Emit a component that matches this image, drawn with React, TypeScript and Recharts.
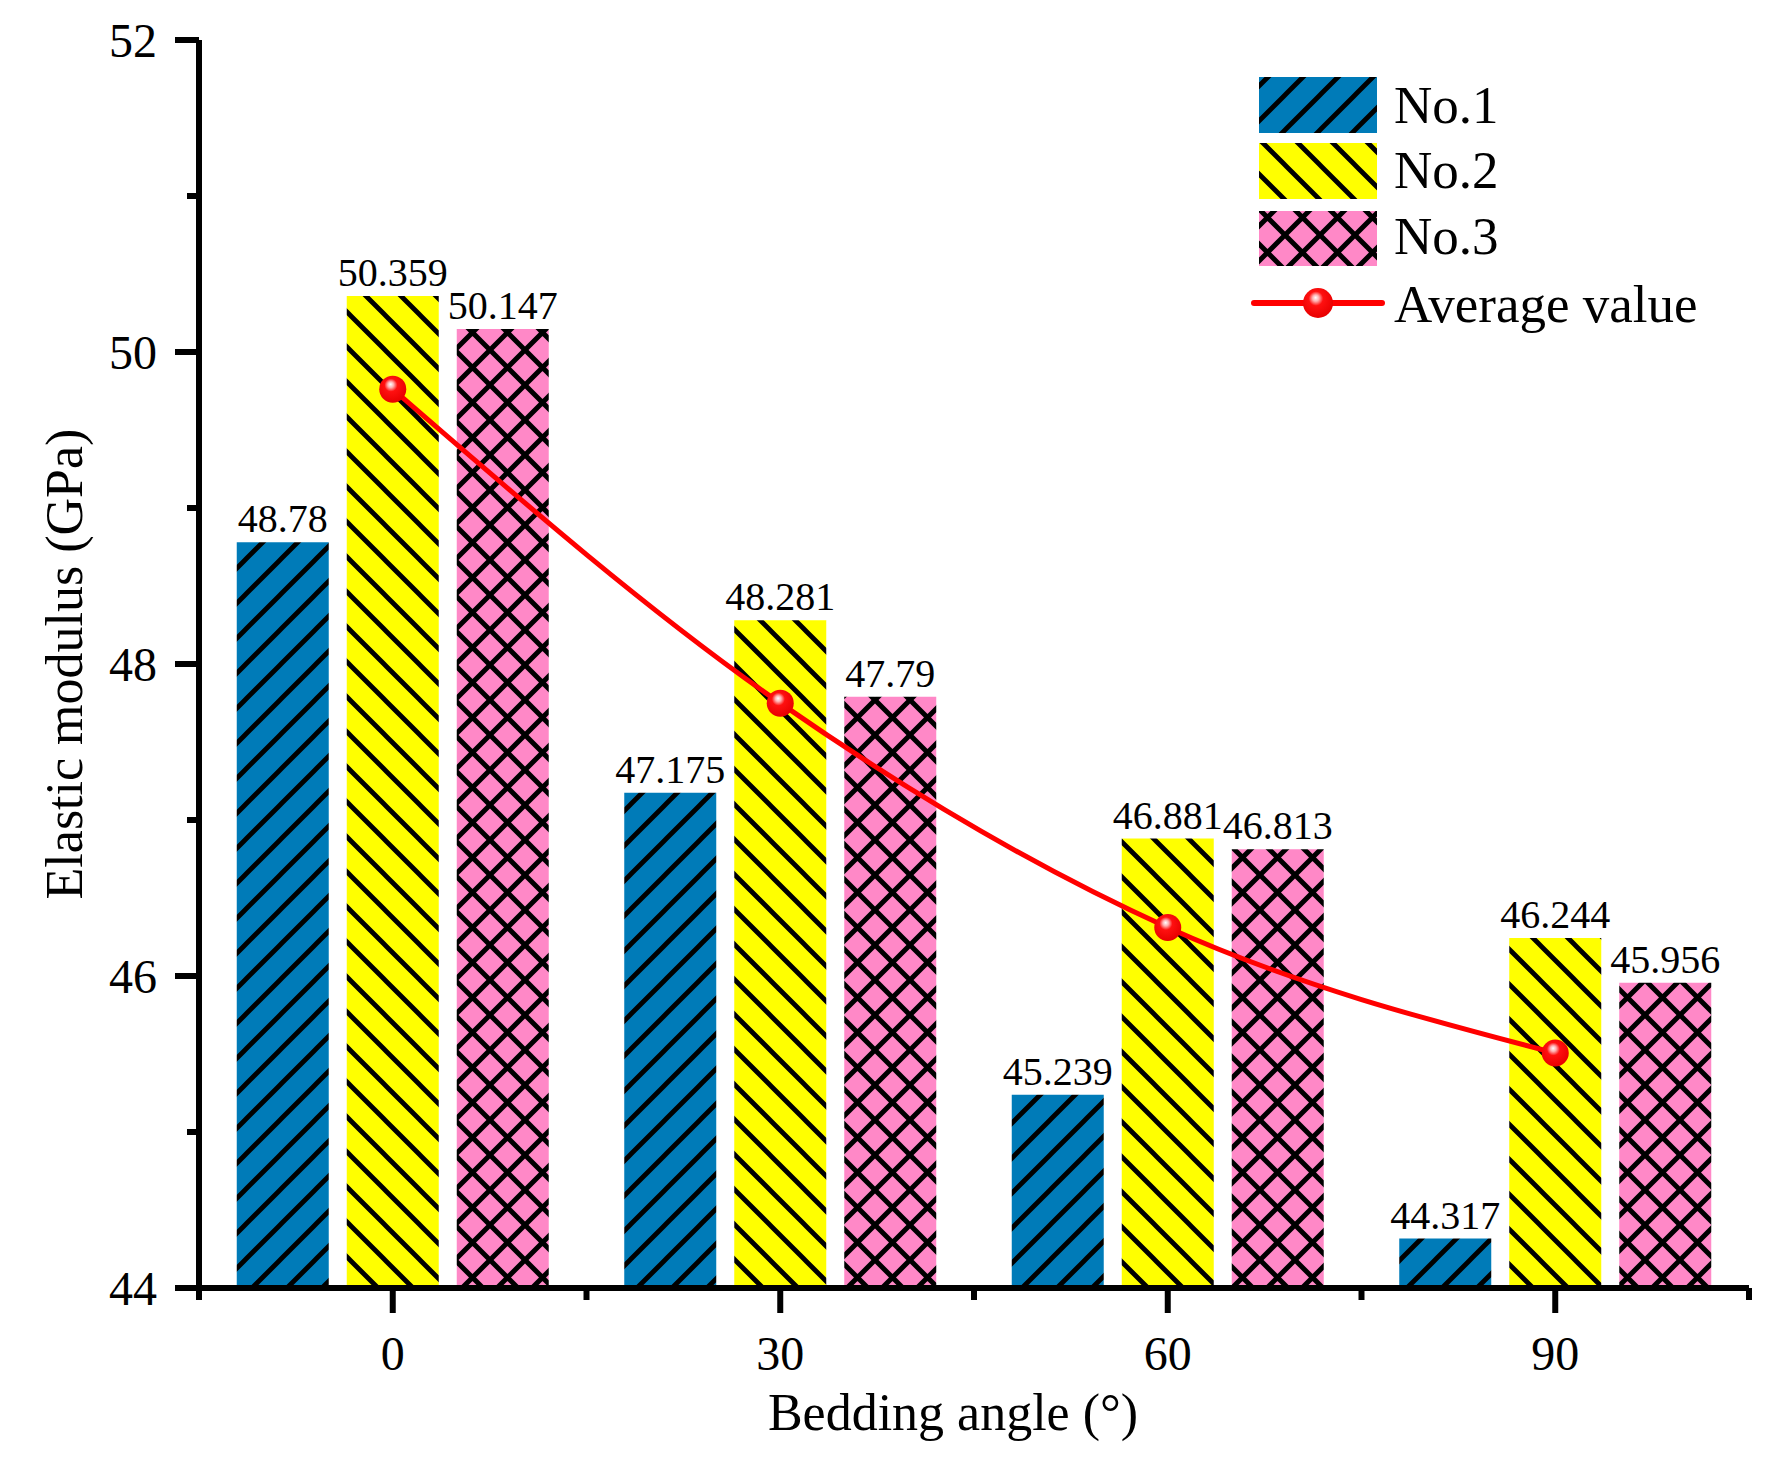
import React from 'react';
import { ComposedChart, Bar, Line, XAxis, YAxis, Legend, LabelList } from 'recharts';

const ANGLES = ['0', '30', '60', '90'];
const NO1 = [48.78, 47.175, 45.239, 44.317];
const NO2 = [50.359, 48.281, 46.881, 46.244];
const NO3 = [50.147, 47.79, 46.813, 45.956];
const AVG = [49.762, 47.749, 46.311, 45.506];
const Y_TICKS = [44, 45, 46, 47, 48, 49, 50, 51, 52];
const SERIES_NAMES = ['No.1', 'No.2', 'No.3', 'Average value'];
const COLORS = ['#007BB8', '#FFFF00', '#FF88C7'];

const data = ANGLES.map((a, i) => ({ angle: a, no1: NO1[i], no2: NO2[i], no3: NO3[i], avg: AVG[i] }));

const FONT = '"Liberation Serif", "Times New Roman", serif';

const Defs = () => (
  <defs>
    <pattern id="patNo1" patternUnits="userSpaceOnUse" width={35} height={35}>
      <rect width={35} height={35} fill={COLORS[0]} />
      <path d="M-6,6 L6,-6 M0,35 L35,0 M29,41 L41,29" stroke="#000" strokeWidth={4.8} />
    </pattern>
    <pattern id="patNo2" patternUnits="userSpaceOnUse" width={35} height={35}>
      <rect width={35} height={35} fill={COLORS[1]} />
      <path d="M-6,29 L6,41 M0,0 L35,35 M29,-6 L41,6" stroke="#000" strokeWidth={4.8} />
    </pattern>
    <pattern id="patNo3" patternUnits="userSpaceOnUse" width={35} height={35}>
      <rect width={35} height={35} fill={COLORS[2]} />
      <path
        d="M-6,6 L6,-6 M0,35 L35,0 M29,41 L41,29 M-6,29 L6,41 M0,0 L35,35 M29,-6 L41,6"
        stroke="#000"
        strokeWidth={5}
      />
    </pattern>
    <radialGradient id="ballGrad" cx="0.45" cy="0.4" r="0.6" fx="0.42" fy="0.32">
      <stop offset="0" stopColor="#ffffff" />
      <stop offset="0.18" stopColor="#ffb0b0" />
      <stop offset="0.4" stopColor="#ff1010" />
      <stop offset="1" stopColor="#e80000" />
    </radialGradient>
  </defs>
);

const YTick = (props: any) => {
  const { x, y, payload } = props;
  const major = payload.value % 2 === 0;
  return (
    <g>
      <line x1={x - (major ? 24 : 12)} x2={x} y1={y} y2={y} stroke="#000" strokeWidth={6} />
      {major && (
        <text x={x - 42} y={y + 17} textAnchor="end" fontSize={48} fontFamily={FONT} fill="#000">
          {payload.value}
        </text>
      )}
    </g>
  );
};

const XTick = (props: any) => {
  const { x, y, payload, index, visibleTicksCount } = props;
  const half = payload && payload.offset ? payload.offset : 193.75;
  const last = index === (visibleTicksCount ?? 4) - 1;
  return (
    <g>
      <line x1={x} x2={x} y1={y} y2={y + 25} stroke="#000" strokeWidth={6} />
      <line x1={x - half} x2={x - half} y1={y} y2={y + 12} stroke="#000" strokeWidth={6} />
      {last && <line x1={x + half} x2={x + half} y1={y} y2={y + 12} stroke="#000" strokeWidth={6} />}
      <text x={x} y={y + 82} textAnchor="middle" fontSize={48} fontFamily={FONT} fill="#000">
        {payload.value}
      </text>
    </g>
  );
};

const XTitle = (props: any) => {
  const vb = props.viewBox || {};
  return (
    <text x={vb.x + vb.width / 2 - 21} y={vb.y + 142} textAnchor="middle" fontSize={52} fontFamily={FONT} fill="#000">
      Bedding angle (°)
    </text>
  );
};

const YTitle = (props: any) => {
  const vb = props.viewBox || {};
  const cx = vb.x + 82;
  const cy = vb.y + vb.height / 2;
  return (
    <text
      x={cx}
      y={cy}
      transform={`rotate(-90 ${cx} ${cy})`}
      textAnchor="middle"
      fontSize={52}
      fontFamily={FONT}
      fill="#000"
    >
      Elastic modulus (GPa)
    </text>
  );
};

const Ball = (props: any) => {
  const { cx, cy, index } = props;
  if (cx == null || cy == null) return null;
  return <circle key={`ball-${index}`} cx={cx} cy={cy} r={13.5} fill="url(#ballGrad)" />;
};

const LegendContent = () => {
  const rows = [
    { y: 17, h: 56, fill: 'url(#patNo1)', base: 63 },
    { y: 83, h: 56, fill: 'url(#patNo2)', base: 128 },
    { y: 151, h: 55, fill: 'url(#patNo3)', base: 194 },
  ];
  return (
    <svg width={500} height={290} style={{ display: 'block', overflow: 'visible' }}>
      {rows.map((r, i) => (
        <g key={i}>
          <rect x={9} y={r.y} width={118} height={r.h} fill={r.fill} />
          <text x={144} y={r.base} fontSize={53} fontFamily={FONT} fill="#000">
            {SERIES_NAMES[i]}
          </text>
        </g>
      ))}
      <line x1={4} x2={132} y1={243} y2={243} stroke="#ff0000" strokeWidth={6} strokeLinecap="round" />
      <circle cx={68} cy={243} r={15} fill="url(#ballGrad)" />
      <text x={144} y={262} fontSize={53} fontFamily={FONT} fill="#000">
        {SERIES_NAMES[3]}
      </text>
    </svg>
  );
};

export default function App() {
  return (
    <div style={{ position: 'absolute', left: 0, top: 0, background: '#fff' }}>
      <ComposedChart
        width={1786}
        height={1466}
        data={data}
        margin={{ top: 40, right: 37, bottom: 0, left: 0 }}
        barCategoryGap={37.75}
        barGap={18}
      >
        <Defs />
        <XAxis
          dataKey="angle"
          height={178}
          tickSize={0}
          tickMargin={0}
          interval={0}
          tickLine={false}
          axisLine={{ stroke: '#000', strokeWidth: 6 }}
          tick={<XTick />}
          label={<XTitle />}
        />
        <XAxis
          xAxisId="top"
          dataKey="angle"
          orientation="top"
          height={0}
          tick={false}
          tickLine={false}
          axisLine={{ stroke: '#000', strokeWidth: 6 }}
        />
        <YAxis
          type="number"
          domain={[44, 52]}
          ticks={Y_TICKS}
          interval={0}
          width={199}
          tickSize={0}
          tickMargin={0}
          tickLine={false}
          allowDataOverflow
          axisLine={{ stroke: '#000', strokeWidth: 6 }}
          tick={<YTick />}
          label={<YTitle />}
        />
        <YAxis
          yAxisId="right"
          orientation="right"
          type="number"
          domain={[44, 52]}
          width={0}
          tick={false}
          tickLine={false}
          axisLine={{ stroke: '#000', strokeWidth: 6 }}
        />
        <Bar dataKey="no1" name={SERIES_NAMES[0]} fill="url(#patNo1)" isAnimationActive={false}>
          <LabelList dataKey="no1" position="top" offset={10} fontSize={40} fontFamily={FONT} fill="#000" />
        </Bar>
        <Bar dataKey="no2" name={SERIES_NAMES[1]} fill="url(#patNo2)" isAnimationActive={false}>
          <LabelList dataKey="no2" position="top" offset={10} fontSize={40} fontFamily={FONT} fill="#000" />
        </Bar>
        <Bar dataKey="no3" name={SERIES_NAMES[2]} fill="url(#patNo3)" isAnimationActive={false}>
          <LabelList dataKey="no3" position="top" offset={10} fontSize={40} fontFamily={FONT} fill="#000" />
        </Bar>
        <Line
          dataKey="avg"
          name={SERIES_NAMES[3]}
          type="monotone"
          stroke="#ff0000"
          strokeWidth={5}
          dot={<Ball />}
          activeDot={false}
          isAnimationActive={false}
        />
        <Legend
          layout="vertical"
          align="center"
          verticalAlign="middle"
          content={<LegendContent />}
          wrapperStyle={{ position: 'absolute', left: 1250, top: 60, width: 500, height: 290 }}
        />
      </ComposedChart>
    </div>
  );
}
